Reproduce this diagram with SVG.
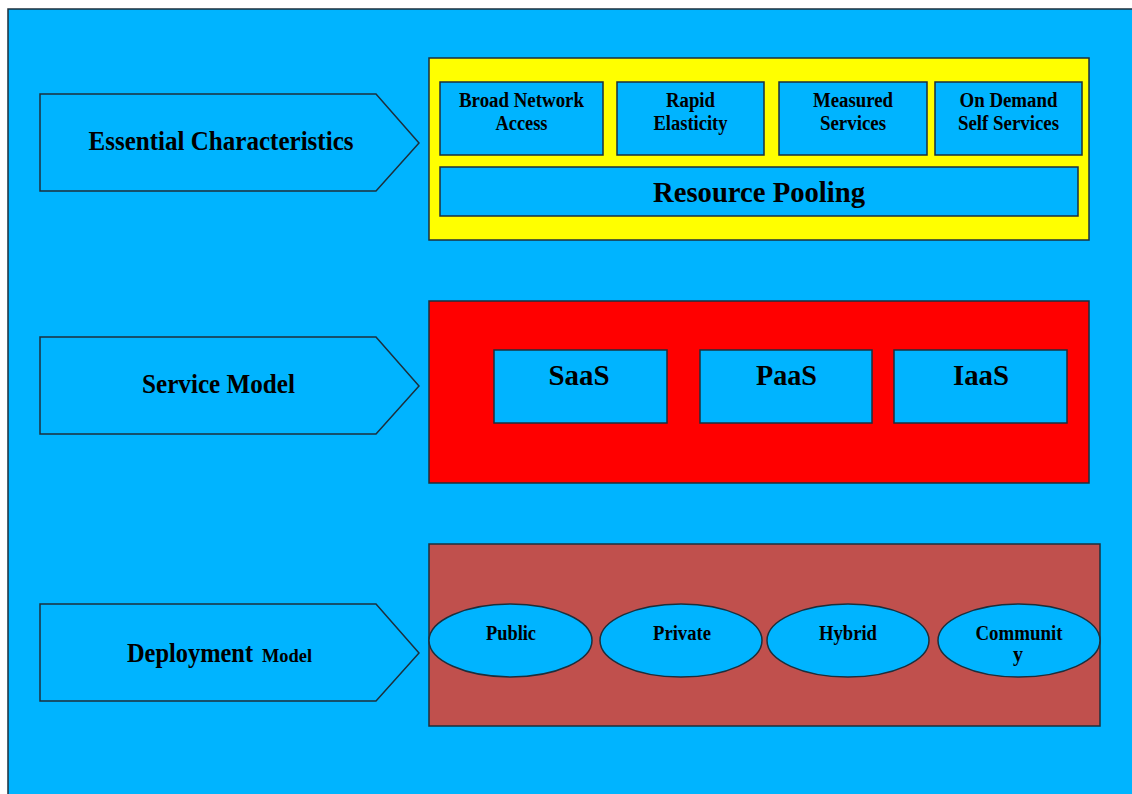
<svg xmlns="http://www.w3.org/2000/svg" width="1132" height="794" viewBox="0 0 1132 794">
  <style>
    .box { fill: #00B4FF; stroke: #1c2f3c; stroke-width: 1.5; }
    .lbl { font-family: "Liberation Serif", "Times New Roman", serif; font-weight: bold; fill: #000; text-anchor: middle; }
  </style>
  <defs>
    <polygon id="tag" points="0,0 336,0 379,49 336,97 0,97"/>
  </defs>

  <!-- page -->
  <rect x="0" y="0" width="1132" height="794" fill="#ffffff"/>
  <rect x="8" y="9" width="1140" height="800" fill="#00B4FF" stroke="#1c2f3c" stroke-width="1.5"/>

  <!-- row labels -->
  <g id="essential-characteristics">
    <use href="#tag" class="box" x="40" y="94"/>
    <text class="lbl" x="221" y="150" font-size="27" textLength="265" lengthAdjust="spacingAndGlyphs">Essential Characteristics</text>
  </g>
  <g id="service-model">
    <use href="#tag" class="box" x="40" y="337"/>
    <text class="lbl" x="218.5" y="393" font-size="27" textLength="153" lengthAdjust="spacingAndGlyphs">Service Model</text>
  </g>
  <g id="deployment-model">
    <use href="#tag" class="box" x="40" y="604"/>
    <text class="lbl" x="190" y="662" font-size="27" textLength="126" lengthAdjust="spacingAndGlyphs">Deployment</text>
    <text class="lbl" x="287" y="662" font-size="18" textLength="50" lengthAdjust="spacingAndGlyphs">Model</text>
  </g>

  <!-- essential characteristics panel -->
  <g id="characteristics-panel">
    <rect x="429" y="58" width="660" height="182" fill="#FFFF00" stroke="#1c2f3c" stroke-width="1.5"/>
  </g>
  <g id="broad-network-access">
    <rect class="box" x="440" y="82" width="163" height="73"/>
    <text class="lbl" x="521.5" y="107" font-size="20" textLength="125" lengthAdjust="spacingAndGlyphs">Broad Network</text>
    <text class="lbl" x="521.5" y="130" font-size="20" textLength="52" lengthAdjust="spacingAndGlyphs">Access</text>
  </g>
  <g id="rapid-elasticity">
    <rect class="box" x="617" y="82" width="147" height="73"/>
    <text class="lbl" x="690.5" y="107" font-size="20" textLength="49" lengthAdjust="spacingAndGlyphs">Rapid</text>
    <text class="lbl" x="690.5" y="130" font-size="20" textLength="74" lengthAdjust="spacingAndGlyphs">Elasticity</text>
  </g>
  <g id="measured-services">
    <rect class="box" x="779" y="82" width="148" height="73"/>
    <text class="lbl" x="853" y="107" font-size="20" textLength="80" lengthAdjust="spacingAndGlyphs">Measured</text>
    <text class="lbl" x="853" y="130" font-size="20" textLength="66" lengthAdjust="spacingAndGlyphs">Services</text>
  </g>
  <g id="on-demand-self-services">
    <rect class="box" x="935" y="82" width="147" height="73"/>
    <text class="lbl" x="1008.5" y="107" font-size="20" textLength="98" lengthAdjust="spacingAndGlyphs">On Demand</text>
    <text class="lbl" x="1008.5" y="130" font-size="20" textLength="101" lengthAdjust="spacingAndGlyphs">Self Services</text>
  </g>
  <g id="resource-pooling">
    <rect class="box" x="440" y="167" width="638" height="49"/>
    <text class="lbl" x="759" y="202" font-size="30" textLength="212" lengthAdjust="spacingAndGlyphs">Resource Pooling</text>
  </g>

  <!-- service model panel -->
  <g id="service-panel">
    <rect x="429" y="301" width="660" height="182" fill="#FF0000" stroke="#1c2f3c" stroke-width="1.5"/>
  </g>
  <g id="saas">
    <rect class="box" x="494" y="350" width="173" height="73"/>
    <text class="lbl" x="579" y="385" font-size="30" textLength="61" lengthAdjust="spacingAndGlyphs">SaaS</text>
  </g>
  <g id="paas">
    <rect class="box" x="700" y="350" width="172" height="73"/>
    <text class="lbl" x="786.5" y="385" font-size="30" textLength="61" lengthAdjust="spacingAndGlyphs">PaaS</text>
  </g>
  <g id="iaas">
    <rect class="box" x="894" y="350" width="173" height="73"/>
    <text class="lbl" x="981" y="385" font-size="30" textLength="56" lengthAdjust="spacingAndGlyphs">IaaS</text>
  </g>

  <!-- deployment model panel -->
  <g id="deployment-panel">
    <rect x="429" y="544" width="671" height="182" fill="#C0504D" stroke="#1c2f3c" stroke-width="1.5"/>
  </g>
  <g id="public">
    <ellipse class="box" cx="510.5" cy="640.5" rx="81.5" ry="36.5"/>
    <text class="lbl" x="511" y="640" font-size="20" textLength="50" lengthAdjust="spacingAndGlyphs">Public</text>
  </g>
  <g id="private">
    <ellipse class="box" cx="681" cy="640.5" rx="81" ry="36.5"/>
    <text class="lbl" x="682" y="640" font-size="20" textLength="58" lengthAdjust="spacingAndGlyphs">Private</text>
  </g>
  <g id="hybrid">
    <ellipse class="box" cx="848" cy="640.5" rx="81" ry="36.5"/>
    <text class="lbl" x="848" y="640" font-size="20" textLength="58" lengthAdjust="spacingAndGlyphs">Hybrid</text>
  </g>
  <g id="community">
    <ellipse class="box" cx="1019" cy="640.5" rx="81" ry="36.5"/>
    <text class="lbl" x="1019" y="640" font-size="20" textLength="87" lengthAdjust="spacingAndGlyphs">Communit</text>
    <text class="lbl" x="1018" y="661" font-size="20">y</text>
  </g>

  <g id="connectors"/>
</svg>
